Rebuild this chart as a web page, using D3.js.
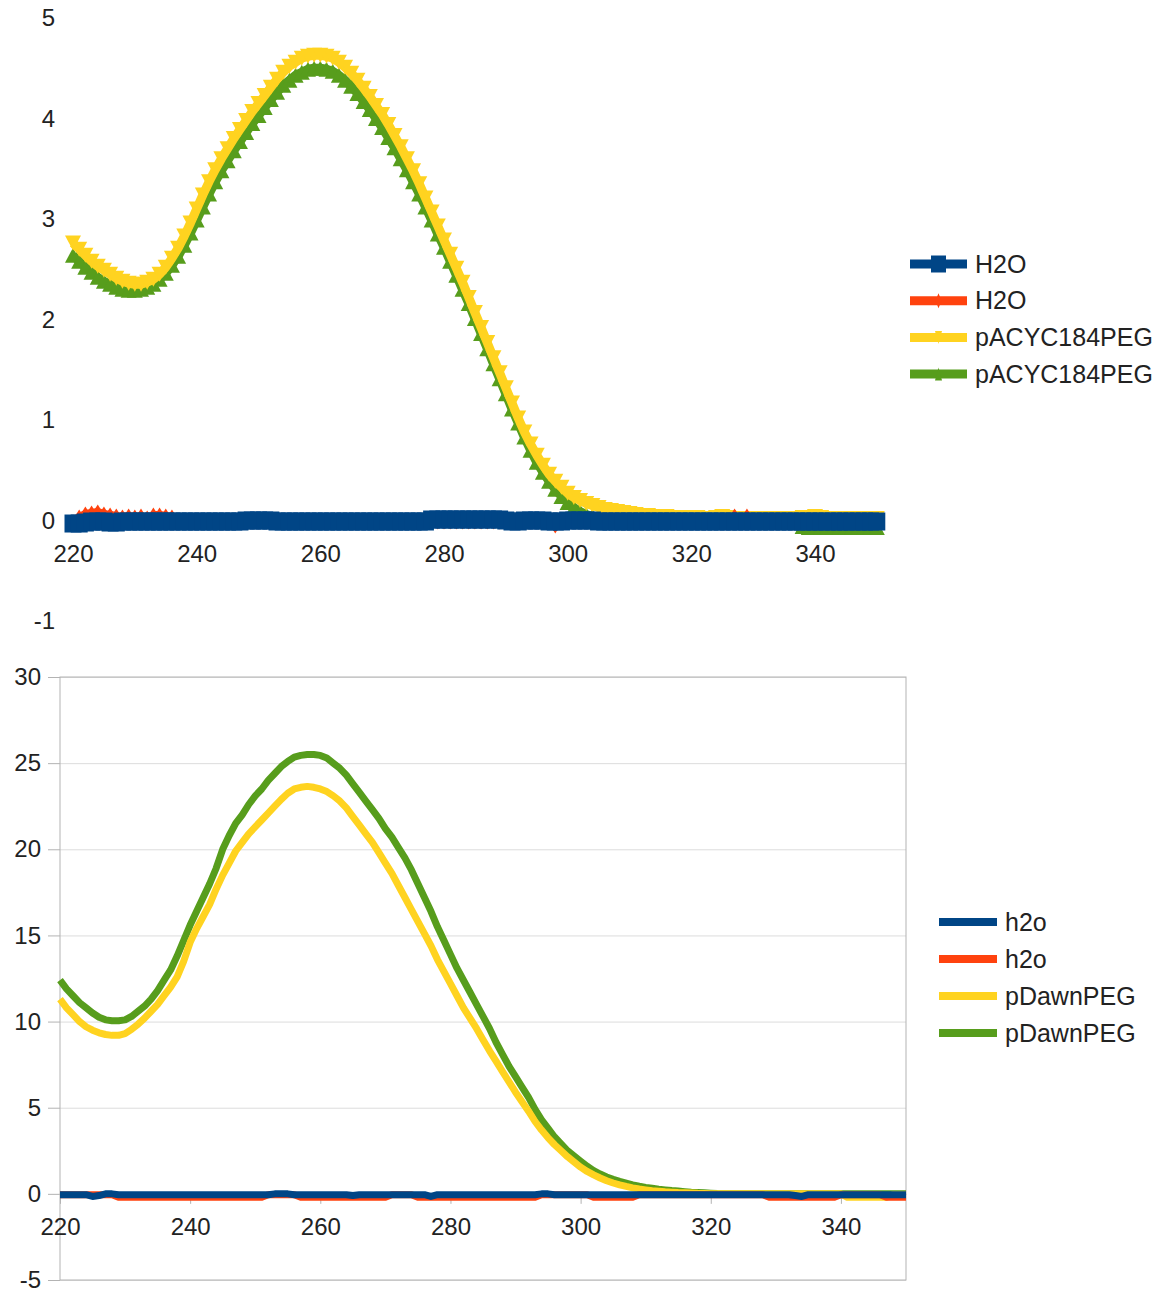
<!DOCTYPE html>
<html>
<head>
<meta charset="utf-8">
<script src="https://cdn.jsdelivr.net/npm/d3@7"></script>
<style>
  body { margin: 0; background: #fff; }
  text { font-family: "Liberation Sans", Arial, sans-serif; fill: #222; }
</style>
</head>
<body>
<svg id="chart" width="1169" height="1295"></svg>
<script>
// wavelength grid, 1 nm steps
const wavelengths = d3.range(220, 351);

const seriesColors = ['#004586', '#ff420e', '#ffd320', '#579d1c'];
const topLabels = ['H2O', 'H2O', 'pACYC184PEG', 'pACYC184PEG'];
const bottomLabels = ['h2o', 'h2o', 'pDawnPEG', 'pDawnPEG'];

const topXTicks = [220, 240, 260, 280, 300, 320, 340];
const topYTicks = [-1, 0, 1, 2, 3, 4, 5];
const bottomXTicks = [220, 240, 260, 280, 300, 320, 340];
const bottomYTicks = [-5, 0, 5, 10, 15, 20, 25, 30];

// ---- top chart values (220..350 nm) ----
const h2oTopA = [
  -0.03,-0.03,-0.02,-0.01,-0.01,-0.01,-0.02,-0.02,-0.01,-0.01,
  -0.01,-0.01,-0.01,-0.01,-0.01,-0.01,-0.01,-0.01,-0.01,-0.01,
  -0.01,-0.01,-0.01,-0.01,-0.01,-0.01,-0.01,-0.01,0.00,0.00,
  0.00,0.00,0.00,-0.01,-0.01,-0.01,-0.01,-0.01,-0.01,-0.01,
  -0.01,-0.01,-0.01,-0.01,-0.01,-0.01,-0.01,-0.01,-0.01,-0.01,
  -0.01,-0.01,-0.01,-0.01,-0.01,-0.01,-0.01,-0.01,0.01,0.01,
  0.01,0.01,0.01,0.01,0.01,0.01,0.01,0.01,0.01,0.01,
  0.00,-0.01,-0.01,0.00,0.00,0.00,0.00,-0.01,-0.01,-0.01,
  0.00,0.00,0.00,0.00,0.00,-0.01,-0.01,-0.01,-0.01,-0.01,
  -0.01,-0.01,-0.01,-0.01,-0.01,-0.01,-0.01,-0.01,-0.01,-0.01,
  -0.01,-0.01,-0.01,-0.01,-0.01,-0.01,-0.01,-0.01,-0.01,-0.01,
  -0.01,-0.01,-0.01,-0.01,-0.01,-0.01,-0.01,-0.01,-0.01,-0.01,
  -0.01,-0.01,-0.01,-0.01,-0.01,-0.01,-0.01,-0.01,-0.01,-0.01,
  -0.01
];
const h2oTopB = [
  -0.02,0.03,0.06,0.07,0.08,0.06,0.05,0.04,0.03,0.04,
  0.03,0.04,0.02,0.05,0.05,0.04,0.03,-0.01,-0.01,-0.01,
  -0.01,-0.01,-0.01,-0.01,-0.01,-0.01,-0.01,-0.01,-0.01,-0.01,
  -0.01,-0.01,-0.01,-0.01,-0.01,-0.01,-0.01,-0.01,-0.01,-0.01,
  -0.01,-0.01,-0.01,-0.01,-0.01,-0.01,-0.01,-0.01,-0.01,-0.01,
  -0.01,-0.01,-0.01,-0.01,-0.01,-0.01,-0.01,-0.01,-0.01,-0.01,
  -0.01,-0.01,-0.01,-0.01,-0.01,-0.01,-0.01,-0.01,-0.01,-0.01,
  -0.01,-0.01,-0.01,-0.01,-0.01,-0.01,-0.01,-0.01,-0.05,-0.01,
  -0.01,-0.01,-0.01,-0.01,-0.01,-0.01,-0.01,-0.01,-0.01,-0.01,
  -0.01,-0.01,-0.01,-0.01,-0.01,-0.01,-0.01,-0.01,-0.01,-0.01,
  -0.01,-0.01,-0.01,-0.01,-0.01,-0.01,-0.01,0.04,-0.01,0.04,
  -0.01,-0.01,-0.01,-0.01,-0.01,-0.01,-0.01,-0.01,-0.01,-0.01,
  -0.01,-0.01,-0.01,-0.01,-0.01,-0.01,-0.01,-0.01,-0.01,-0.01,
  -0.01
];
const pacycA = [
  2.76,2.70,2.64,2.58,2.53,2.49,2.45,2.41,2.38,2.36,
  2.35,2.35,2.37,2.40,2.45,2.52,2.61,2.71,2.83,2.96,
  3.10,3.24,3.37,3.49,3.60,3.70,3.80,3.89,3.98,4.07,
  4.15,4.23,4.31,4.39,4.46,4.52,4.56,4.60,4.62,4.63,
  4.63,4.62,4.60,4.56,4.51,4.45,4.38,4.30,4.22,4.13,
  4.04,3.94,3.83,3.72,3.60,3.48,3.35,3.21,3.07,2.93,
  2.79,2.65,2.51,2.37,2.22,2.07,1.92,1.77,1.62,1.47,
  1.32,1.17,1.02,0.88,0.76,0.65,0.55,0.46,0.39,0.33,
  0.27,0.23,0.20,0.17,0.15,0.13,0.11,0.10,0.09,0.08,
  0.07,0.06,0.05,0.05,0.04,0.04,0.04,0.03,0.03,0.03,
  0.03,0.03,0.02,0.02,0.03,0.04,0.03,0.02,0.02,0.02,
  0.02,0.02,0.02,0.02,0.02,0.02,0.02,0.02,0.03,0.03,
  0.04,0.03,0.02,0.02,0.02,0.02,0.02,0.02,0.02,0.02,
  0.02
];
const pacycB = [
  2.64,2.58,2.52,2.47,2.42,2.38,2.35,2.32,2.30,2.29,
  2.29,2.30,2.32,2.35,2.40,2.46,2.54,2.63,2.74,2.86,
  2.99,3.12,3.25,3.37,3.48,3.58,3.68,3.77,3.86,3.95,
  4.03,4.11,4.19,4.26,4.33,4.38,4.43,4.46,4.49,4.50,
  4.50,4.49,4.47,4.43,4.38,4.32,4.25,4.17,4.09,4.00,
  3.91,3.81,3.71,3.60,3.49,3.37,3.25,3.12,2.99,2.85,
  2.72,2.58,2.44,2.30,2.16,2.01,1.86,1.71,1.56,1.41,
  1.26,1.11,0.97,0.83,0.70,0.58,0.48,0.39,0.31,0.24,
  0.18,0.13,0.09,0.06,0.04,0.03,0.02,0.02,0.01,0.01,
  0.01,0.01,0.01,0.01,0.01,0.01,0.01,0.01,0.01,0.01,
  0.01,0.01,0.01,0.01,0.01,0.01,0.01,0.01,0.01,0.01,
  0.01,0.01,0.01,0.01,0.01,0.01,0.01,0.01,-0.06,-0.07,
  -0.07,-0.07,-0.07,-0.07,-0.07,-0.07,-0.07,-0.07,-0.07,-0.07,
  -0.07
];

// ---- bottom chart values (220..350 nm) ----
const h2oBotA = [
  -0.05,-0.05,-0.05,-0.05,-0.05,-0.15,-0.1,0.0,0.0,-0.05,
  -0.05,-0.05,-0.05,-0.05,-0.05,-0.05,-0.05,-0.05,-0.05,-0.05,
  -0.05,-0.05,-0.05,-0.05,-0.05,-0.05,-0.05,-0.05,-0.05,-0.05,
  -0.05,-0.05,-0.05,0.0,0.0,0.0,-0.05,-0.05,-0.05,-0.05,
  -0.05,-0.05,-0.05,-0.05,-0.05,-0.1,-0.05,-0.05,-0.05,-0.05,
  -0.05,-0.05,-0.05,-0.05,-0.05,-0.05,-0.05,-0.15,-0.05,-0.05,
  -0.05,-0.05,-0.05,-0.05,-0.05,-0.05,-0.05,-0.05,-0.05,-0.05,
  -0.05,-0.05,-0.05,-0.05,0.0,0.0,-0.05,-0.05,-0.05,-0.05,
  -0.05,-0.05,-0.05,-0.05,-0.05,-0.05,-0.05,-0.05,-0.05,-0.05,
  -0.05,-0.05,-0.05,-0.05,-0.05,-0.05,-0.05,-0.05,-0.05,-0.05,
  -0.05,-0.05,-0.05,-0.05,-0.05,-0.05,-0.05,-0.05,-0.05,-0.05,
  -0.05,-0.05,-0.05,-0.1,-0.15,-0.05,-0.05,-0.05,-0.05,-0.05,
  -0.05,-0.05,-0.05,-0.05,-0.05,-0.05,-0.05,-0.05,-0.05,-0.05,
  -0.05
];
const h2oBotB = [
  -0.05,-0.05,-0.05,-0.05,-0.05,-0.05,-0.05,-0.05,-0.05,-0.2,
  -0.2,-0.2,-0.2,-0.2,-0.2,-0.2,-0.2,-0.2,-0.2,-0.2,
  -0.2,-0.2,-0.2,-0.2,-0.2,-0.2,-0.2,-0.2,-0.2,-0.2,
  -0.2,-0.2,-0.05,-0.05,-0.05,-0.05,-0.05,-0.2,-0.2,-0.2,
  -0.2,-0.2,-0.2,-0.2,-0.2,-0.2,-0.2,-0.2,-0.2,-0.2,
  -0.2,-0.05,-0.05,-0.05,-0.05,-0.2,-0.2,-0.2,-0.2,-0.2,
  -0.2,-0.2,-0.2,-0.2,-0.2,-0.2,-0.2,-0.2,-0.2,-0.2,
  -0.2,-0.2,-0.2,-0.2,-0.05,-0.05,-0.05,-0.05,-0.05,-0.05,
  -0.05,-0.05,-0.2,-0.2,-0.2,-0.2,-0.2,-0.2,-0.2,-0.05,
  -0.05,-0.05,-0.05,-0.05,-0.05,-0.05,-0.05,-0.05,-0.05,-0.05,
  -0.05,-0.05,-0.05,-0.05,-0.05,-0.05,-0.05,-0.05,-0.05,-0.2,
  -0.2,-0.2,-0.2,-0.2,-0.2,-0.2,-0.2,-0.2,-0.2,-0.2,
  -0.05,-0.05,-0.05,-0.05,-0.05,-0.05,-0.05,-0.2,-0.2,-0.2,
  -0.2
];
const pdawnA = [
  11.3,10.8,10.4,10.0,9.7,9.5,9.35,9.25,9.2,9.2,
  9.3,9.55,9.85,10.2,10.6,11.0,11.5,12.0,12.6,13.5,
  14.6,15.4,16.1,16.8,17.7,18.5,19.2,19.9,20.4,20.9,
  21.3,21.7,22.1,22.5,22.9,23.25,23.5,23.6,23.65,23.6,
  23.5,23.35,23.1,22.8,22.4,21.9,21.4,20.9,20.4,19.8,
  19.2,18.6,17.9,17.2,16.5,15.8,15.1,14.4,13.6,12.9,
  12.2,11.5,10.8,10.2,9.6,8.95,8.3,7.7,7.1,6.5,
  5.9,5.35,4.8,4.2,3.7,3.25,2.85,2.5,2.15,1.85,
  1.55,1.3,1.1,0.92,0.76,0.63,0.52,0.43,0.35,0.28,
  0.23,0.18,0.15,0.12,0.1,0.08,0.07,0.05,0.03,0.02,
  0.01,0.0,0.0,0.0,0.0,0.0,0.0,0.0,0.0,0.0,
  0.0,0.0,0.0,0.0,0.0,0.0,0.0,0.0,0.0,0.0,
  0.0,-0.2,-0.2,-0.2,-0.2,-0.2,-0.2,-0.2,-0.05,-0.05,
  -0.05
];
const pdawnB = [
  12.4,11.9,11.5,11.1,10.8,10.5,10.25,10.1,10.05,10.05,
  10.1,10.3,10.6,10.9,11.3,11.8,12.4,13.0,13.8,14.7,
  15.6,16.4,17.2,18.0,18.9,20.0,20.8,21.5,22.0,22.6,
  23.1,23.5,24.0,24.4,24.8,25.1,25.35,25.45,25.5,25.5,
  25.45,25.3,25.0,24.7,24.3,23.8,23.3,22.8,22.3,21.8,
  21.2,20.7,20.1,19.5,18.8,18.0,17.2,16.4,15.5,14.7,
  13.9,13.1,12.4,11.7,11.0,10.3,9.6,8.8,8.1,7.4,
  6.8,6.2,5.6,4.9,4.3,3.8,3.3,2.9,2.5,2.2,
  1.9,1.6,1.35,1.15,0.98,0.84,0.72,0.62,0.52,0.44,
  0.37,0.32,0.27,0.23,0.19,0.16,0.13,0.1,0.08,0.06,
  0.04,0.02,0.01,0.0,0.0,0.0,0.0,0.0,0.0,0.0,
  0.0,0.0,0.0,0.0,0.0,0.0,0.0,0.0,0.0,0.0,
  0.0,0.0,0.0,0.0,0.0,0.0,0.0,0.0,0.0,0.0,
  0.0
];

const svg = d3.select('#chart');

// marker outline centred on the point
function markerPath(kind, w, h) {
  const a = w / 2, b = h / 2;
  if (kind === 'square') return `M${-a},${-b}H${a}V${b}H${-a}Z`;
  if (kind === 'diamond') return `M0,${-b}L${a},0L0,${b}L${-a},0Z`;
  if (kind === 'down') return `M${-a},${-b}H${a}L0,${b}Z`;
  return `M${-a},${b}H${a}L0,${-b}Z`;
}

// plain hyphen for negatives, like the original
const plainFormat = d => String(d);

function styleAxis(g) {
  g.attr('font-size', 24).attr('font-family', '"Liberation Sans", Arial, sans-serif');
  g.selectAll('text').style('fill', '#222');
}

function drawPanel(cfg) {
  const x = d3.scaleLinear().domain(cfg.xDomain).range(cfg.xRange);
  const y = d3.scaleLinear().domain(cfg.yDomain).range(cfg.yRange);
  const g = svg.append('g');

  if (cfg.frame) {
    // gridlines
    g.append('g')
      .attr('transform', `translate(${cfg.xRange[0]},0)`)
      .call(d3.axisLeft(y).tickValues(cfg.yTicks).tickSize(-(cfg.xRange[1] - cfg.xRange[0])).tickFormat(''))
      .call(a => a.select('.domain').remove())
      .call(a => a.selectAll('line').attr('stroke', '#dcdcdc'));
    g.append('rect')
      .attr('x', cfg.xRange[0]).attr('y', cfg.yRange[1])
      .attr('width', cfg.xRange[1] - cfg.xRange[0])
      .attr('height', cfg.yRange[0] - cfg.yRange[1])
      .attr('fill', 'none').attr('stroke', '#b3b3b3');
  }

  // y axis labels
  g.append('g')
    .attr('transform', `translate(${cfg.yAxisX},0)`)
    .call(d3.axisLeft(y).tickValues(cfg.yTicks).tickSize(cfg.yTickSize).tickPadding(cfg.yPad).tickFormat(plainFormat))
    .call(a => a.select('.domain').remove())
    .call(a => a.selectAll('line').attr('stroke', '#b3b3b3'))
    .call(styleAxis);

  // x axis crossing at zero
  g.append('g')
    .attr('transform', `translate(0,${y(0)})`)
    .call(d3.axisBottom(x).tickValues(cfg.xTicks).tickSize(cfg.xTickSize).tickSizeOuter(0).tickPadding(cfg.xPad).tickFormat(plainFormat))
    .call(a => a.select('.domain').attr('stroke', cfg.frame ? '#b3b3b3' : 'none'))
    .call(a => a.selectAll('line').attr('stroke', cfg.frame ? '#b3b3b3' : 'none'))
    .call(styleAxis);

  // first series ends up on top
  const line = d3.line().x((d, j) => x(wavelengths[j])).y(d => y(d));
  for (let i = cfg.series.length - 1; i >= 0; i--) {
    const vals = cfg.series[i];
    g.append('path')
      .datum(vals)
      .attr('d', line)
      .attr('fill', 'none')
      .attr('stroke', seriesColors[i])
      .attr('stroke-width', cfg.lineWidth)
      .attr('stroke-linejoin', 'round');
    if (cfg.markers) {
      const m = cfg.markers[i];
      g.append('g').selectAll('path')
        .data(vals)
        .enter()
        .append('path')
        .attr('transform', (d, j) => `translate(${x(wavelengths[j])},${y(d)})`)
        .attr('d', markerPath(m.kind, m.w, m.h))
        .attr('fill', seriesColors[i]);
    }
  }

  // legend
  const lg = svg.append('g');
  cfg.labels.forEach((label, i) => {
    const ly = cfg.legendY + i * cfg.legendStep;
    lg.append('line')
      .attr('x1', cfg.legendX).attr('x2', cfg.legendX + cfg.legendLen)
      .attr('y1', ly).attr('y2', ly)
      .attr('stroke', seriesColors[i]).attr('stroke-width', cfg.legendWidth);
    if (cfg.legendMarkers) {
      const m = cfg.legendMarkers[i];
      lg.append('path')
        .attr('transform', `translate(${cfg.legendX + cfg.legendLen / 2},${ly})`)
        .attr('d', markerPath(m.kind, m.w, m.h))
        .attr('fill', seriesColors[i]);
    }
    lg.append('text')
      .attr('x', cfg.legendX + cfg.legendLen + 8)
      .attr('y', ly)
      .attr('dy', '0.35em')
      .attr('font-size', 25)
      .text(label);
  });
}

drawPanel({
  xDomain: [220, 350], xRange: [73, 876.8],
  yDomain: [-1, 5], yRange: [621, 18],
  xTicks: topXTicks, yTicks: topYTicks,
  yAxisX: 55, yTickSize: 0, yPad: 0,
  xTickSize: 0, xPad: 24,
  frame: false,
  series: [h2oTopA, h2oTopB, pacycA, pacycB],
  lineWidth: 9,
  markers: [
    { kind: 'square', w: 17, h: 18 },
    { kind: 'diamond', w: 10, h: 16 },
    { kind: 'down', w: 16, h: 15 },
    { kind: 'up', w: 16, h: 15 }
  ],
  labels: topLabels,
  legendX: 910, legendLen: 57, legendY: 264, legendStep: 36.7, legendWidth: 9,
  legendMarkers: [
    { kind: 'square', w: 15, h: 17 },
    { kind: 'diamond', w: 6, h: 15 },
    { kind: 'down', w: 7, h: 13 },
    { kind: 'up', w: 7, h: 13 }
  ]
});

drawPanel({
  xDomain: [220, 350], xRange: [60, 906],
  yDomain: [-5, 30], yRange: [1280, 677],
  xTicks: bottomXTicks, yTicks: bottomYTicks,
  yAxisX: 60, yTickSize: 12, yPad: 7,
  xTickSize: 10, xPad: 14,
  frame: true,
  series: [h2oBotA, h2oBotB, pdawnA, pdawnB],
  lineWidth: 7,
  markers: null,
  labels: bottomLabels,
  legendX: 939, legendLen: 58, legendY: 922, legendStep: 37, legendWidth: 8,
  legendMarkers: null
});
</script>
</body>
</html>
